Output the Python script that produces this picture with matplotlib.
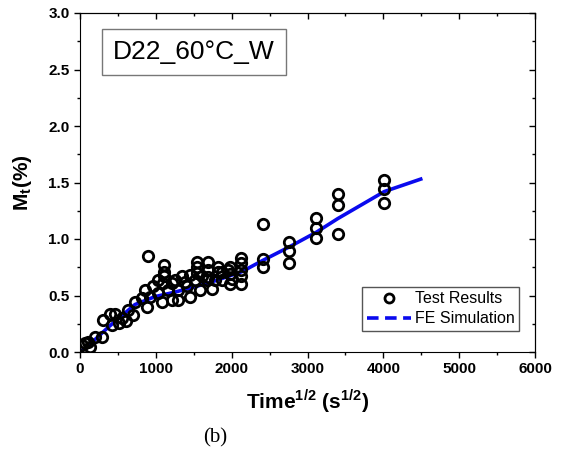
import matplotlib
matplotlib.use("Agg")
import matplotlib.pyplot as plt
from matplotlib.lines import Line2D
from matplotlib.ticker import MultipleLocator

plt.rcParams['font.family'] = ['Liberation Sans', 'DejaVu Sans']
plt.rcParams['mathtext.fontset'] = 'custom'
plt.rcParams['mathtext.rm'] = 'Liberation Sans'
plt.rcParams['mathtext.bf'] = 'Liberation Sans:bold'

# Test results (sqrt time, moisture uptake %)
test_x = [22, 66, 110, 132, 198, 286, 308, 396, 462, 549, 637, 725, 813, 857, 901, 923, 967,
          1033, 1033, 1077, 1099, 1112, 1112, 1112, 1165, 1209, 1209, 1253, 1297, 1297, 1341,
          1385, 1407, 1451, 1451, 1516, 1538, 1538, 1538, 1582, 1604, 1670, 1683, 1683, 1683,
          1736, 1780, 1824, 1824, 1868, 1868, 1956, 1978, 1978, 1978, 2000, 2123, 2123, 2123,
          2123, 2123, 2409, 2409, 2409, 2760, 2760, 2760, 3117, 3117, 3117, 3398, 3398, 3398,
          4013, 4013, 4013, 600, 700, 880, 420, 520]
test_y = [0.06, 0.077, 0.09, 0.047, 0.135, 0.135, 0.28, 0.34, 0.34, 0.30, 0.37, 0.445, 0.475, 0.55, 0.85, 0.49, 0.58,
          0.64, 0.52, 0.445, 0.61, 0.77, 0.71, 0.67, 0.55, 0.46, 0.61, 0.64, 0.46, 0.55, 0.67,
          0.62, 0.58, 0.49, 0.68, 0.64, 0.80, 0.755, 0.70, 0.55, 0.67, 0.64, 0.80, 0.73, 0.66,
          0.56, 0.64, 0.755, 0.71, 0.64, 0.71, 0.73, 0.755, 0.69, 0.60, 0.65, 0.83, 0.785, 0.725,
          0.67, 0.60, 1.13, 0.82, 0.75, 0.97, 0.89, 0.79, 1.19, 1.10, 1.01, 1.40, 1.30, 1.04,
          1.52, 1.44, 1.32, 0.27, 0.33, 0.40, 0.24, 0.26]

# FE simulation
fe_x = [0, 150, 374, 725, 989, 1253, 1692, 2132, 2409, 2760, 3117, 3398, 4013, 4493]
fe_y = [0, 0.08, 0.22, 0.42, 0.49, 0.53, 0.61, 0.71, 0.81, 0.93, 1.06, 1.18, 1.42, 1.53]

fig = plt.figure(figsize=(5.65, 4.63), dpi=100)
ax = fig.add_axes([80/565, 1-352/463, 455/565, 339/463])

ax.plot(fe_x, fe_y, color='#0a0aee', lw=2.6, zorder=2)
ax.plot(test_x, test_y, 'o', mfc='none', mec='black', ms=7.5, mew=2.0, zorder=3)

ax.set_xlim(0, 6000)
ax.set_ylim(0, 3.0)
ax.xaxis.set_major_locator(MultipleLocator(1000))
ax.xaxis.set_minor_locator(MultipleLocator(500))
ax.yaxis.set_major_locator(MultipleLocator(0.5))
ax.yaxis.set_minor_locator(MultipleLocator(0.25))
ax.yaxis.set_major_formatter(matplotlib.ticker.FormatStrFormatter('%.1f'))
ax.tick_params(which='major', direction='out', length=4, width=1, labelsize=11)
ax.tick_params(which='minor', direction='out', length=2.5, width=1)
for lab in ax.get_xticklabels() + ax.get_yticklabels():
    lab.set_fontweight('bold')

secx = ax.secondary_xaxis('top')
secx.xaxis.set_major_locator(MultipleLocator(1000))
secx.xaxis.set_minor_locator(MultipleLocator(500))
secx.tick_params(which='major', direction='in', length=4, width=1, labeltop=False)
secx.tick_params(which='minor', direction='in', length=2.5, width=1)
secy = ax.secondary_yaxis('right')
secy.yaxis.set_major_locator(MultipleLocator(0.5))
secy.yaxis.set_minor_locator(MultipleLocator(0.25))
secy.tick_params(which='major', direction='in', length=4, width=1, labelright=False)
secy.tick_params(which='minor', direction='in', length=2.5, width=1)

ax.set_xlabel(r'Time$^{\mathbf{1/2}}$ (s$^{\mathbf{1/2}}$)', fontsize=15, fontweight='bold', labelpad=8)
ax.set_ylabel(r'M$_{\mathbf{t}}$(%)', fontsize=15, fontweight='bold', labelpad=10)

ax.text(0.072, 0.886, 'D22_60°C_W', transform=ax.transAxes, fontsize=19, va='center', ha='left',
        bbox=dict(boxstyle='square,pad=0.42', fc='white', ec='#777777', lw=1))

handles = [Line2D([], [], ls='none', marker='o', mfc='none', mec='black', ms=6.5, mew=2),
           Line2D([], [], color='#0a0aee', lw=2.6, ls=(0, (3.2, 1.8)))]
leg = ax.legend(handles, ['Test Results', 'FE Simulation'], loc='lower right',
                bbox_to_anchor=(0.965, 0.062), fontsize=11.5, frameon=True, fancybox=False,
                edgecolor='#555555', framealpha=1, borderpad=0.3, handlelength=2.8,
                handletextpad=0.2, labelspacing=0.3, borderaxespad=0)
leg.get_frame().set_linewidth(1)

fig.text(215/565, 1-438/463, '(b)', fontsize=15, family='Liberation Serif', ha='center', va='center')

fig.savefig('out.png', dpi=100)
